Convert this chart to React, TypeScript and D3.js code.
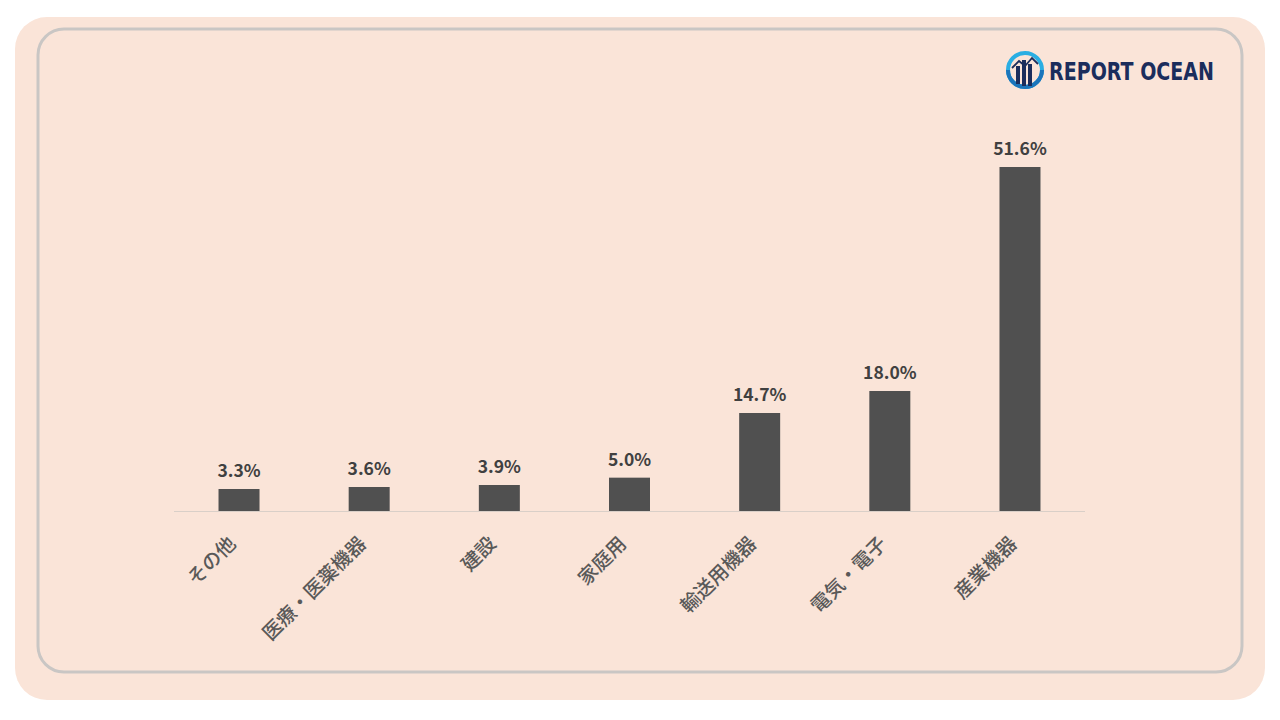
import React from "react";
import * as d3 from "d3";

const categories = ["その他", "医療・医薬機器", "建設", "家庭用", "輸送用機器", "電気・電子", "産業機器"];
const values = [3.3, 3.6, 3.9, 5.0, 14.7, 18.0, 51.6];
const valueLabels = ["3.3%", "3.6%", "3.9%", "5.0%", "14.7%", "18.0%", "51.6%"];

const W = 1280;
const H = 720;
const left = 174;
const right = 1085;
const baseY = 511;
const FONT = "'Noto Sans CJK JP', 'Noto Sans', sans-serif";

export default function App() {
  const x = d3.scaleBand<string>().domain(categories).range([left, right]).paddingInner(0.685).paddingOuter(0.342);
  const y = d3.scaleLinear().domain([0, 51.6]).range([baseY, 167]);
  const bw = x.bandwidth();

  return (
    <svg width={W} height={H} style={{ position: "absolute", left: 0, top: 0, background: "#ffffff" }}>
      <rect x={15} y={17} width={1250} height={683} rx={32} ry={32} fill="#FAE4D8" />
      <rect x={38} y={29} width={1204} height={643} rx={26} ry={26} fill="none" stroke="#C9C6C4" strokeWidth={3} />

      {/* logo */}
      <g transform="translate(1025,70)">
        <circle r={17} fill="none" stroke="#2AAEE3" strokeWidth={4} />
        <path d="M -17 0 A 17 17 0 0 0 17 0" fill="none" stroke="#1B75BB" strokeWidth={4} />
        <rect x={-9} y={-4} width={4} height={18} fill="#1B2D5C" />
        <rect x={-3} y={-10} width={4} height={26} fill="#1B2D5C" />
        <rect x={3} y={-6} width={4} height={22} fill="#1B2D5C" />
        <polyline points="-13,-2 -6,-9 0,-4 7,-12 13,-6" fill="none" stroke="#1B2D5C" strokeWidth={1.8} />
      </g>
      <text x={1049} y={80} fontFamily="'DejaVu Sans Condensed', 'DejaVu Sans', sans-serif" fontWeight={700} fontSize={25} fill="#1B2D5C" textLength={165} lengthAdjust="spacingAndGlyphs">
        REPORT OCEAN
      </text>

      <line x1={left} x2={right} y1={baseY + 0.5} y2={baseY + 0.5} stroke="#D9CFC8" strokeWidth={1} />

      {categories.map((c, i) => {
        const bx = x(c)!;
        const cx = bx + bw / 2;
        const top = y(values[i]);
        return (
          <g key={c}>
            <rect x={bx} y={top} width={bw} height={baseY - top} fill="#505050" />
            <text x={cx} y={top - 12} textAnchor="middle" fontFamily={FONT} fontWeight={700} fontSize={17.5} fill="#404040">
              {valueLabels[i]}
            </text>
            <text
              transform={`translate(${cx - 8},${539}) rotate(-45)`}
              textAnchor="end"
              dominantBaseline="central"
              fontFamily={FONT}
              fontWeight={500}
              fontSize={19.5}
              fill="#595959"
            >
              {c}
            </text>
          </g>
        );
      })}
    </svg>
  );
}
